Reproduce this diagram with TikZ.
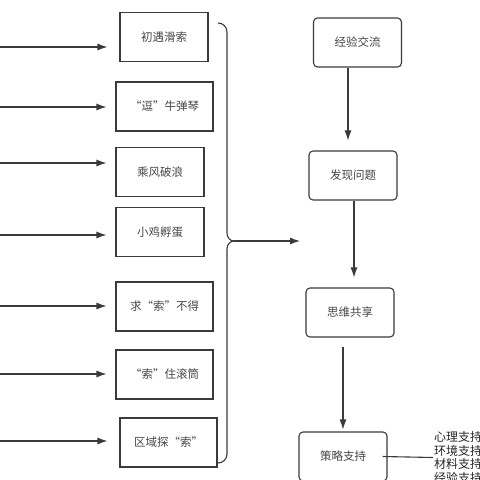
\documentclass[tikz,border=0pt]{standalone}
\usepackage{fontspec}
\newfontfamily\cjk{Noto Sans CJK SC}
\usetikzlibrary{arrows.meta}
\usetikzlibrary{positioning}
\definecolor{linegray}{HTML}{3A3A3A}
\definecolor{textgray}{HTML}{454545}
\tikzset{
	stagebox/.style={draw=linegray,line width=1.1pt,minimum width=88pt,minimum height=49pt,inner sep=0pt,font=\cjk\fontsize{11.5}{13}\selectfont,text=textgray},
	widebox/.style={stagebox,minimum width=97pt},
	flowbox/.style={stagebox,rounded corners=4pt},
	link/.style={draw=linegray,line width=1.1pt,-{Latex[length=10pt,width=7pt]}}
}

\begin{document}
\begin{tikzpicture}[x=1pt,y=-1pt]
			\useasboundingbox (0,0) rectangle (480,480);
			\clip (0,0) rectangle (480,480);
			\node[stagebox] (cyhs) at (164,37) {初遇滑索};
			\node[widebox] (dndq) at (164.5,106.5) {“逗”牛弹琴};
			\node[stagebox] (cfpl) at (160,172) {乘风破浪};
			\node[stagebox] (xjfd) at (160,232) {小鸡孵蛋};
			\node[widebox] (qsbd) at (164.5,306.5) {求“索”不得};
			\node[widebox] (szgt) at (164.5,374.5) {“索”住滚筒};
			\node[widebox] (qyts) at (168.5,442.5) {区域探“索”};
			\coordinate (s1) at (0,47);
			\coordinate (s2) at (0,107);
			\coordinate (s3) at (0,163);
			\coordinate (s4) at (0,235);
			\coordinate (s5) at (0,306);
			\coordinate (s6) at (0,374);
			\coordinate (s7) at (0,441);
			\draw[link,shorten >=12pt] (s1) -- (s1 -| cyhs.west);
			\draw[link,shorten >=9pt] (s2) -- (s2 -| dndq.west);
			\draw[link,shorten >=9pt] (s3) -- (s3 -| cfpl.west);
			\draw[link,shorten >=9pt] (s4) -- (s4 -| xjfd.west);
			\draw[link,shorten >=9pt] (s5) -- (s5 -| qsbd.west);
			\draw[link,shorten >=9pt] (s6) -- (s6 -| szgt.west);
			\draw[link,shorten >=12pt] (s7) -- (s7 -| qyts.west);
			\coordinate (bracetop) at (218,23);
			\coordinate (bracebot) at (218,463);
			\coordinate (bracetip) at (234,241);
			\coordinate (flowin) at (300,241);
			\draw[linegray,line width=1.1pt] (bracetop) to[out=0,in=90] (227,32) -- (227,233) to[out=-90,in=180] (bracetip);
			\draw[linegray,line width=1.1pt] (bracetip) to[out=180,in=90] (227,249) -- (227,454) to[out=-90,in=0] (bracebot);
			\draw[link] (bracetip) -- (flowin);
			\node[flowbox] (jyjl) at (357.5,42.5) {经验交流};
			\node[flowbox] (fxwt) at (353,175.5) {发现问题};
			\node[flowbox] (sswx) at (350,312.5) {思维共享};
			\node[flowbox] (clzc) at (343,456.5) {策略支持};
			\draw[link,shorten >=10pt] ([xshift=-9.5pt]jyjl.south) coordinate (d1) -- (d1 |- fxwt.north);
			\draw[link,shorten >=10pt] ([xshift=1pt]fxwt.south) coordinate (d2) -- (d2 |- sswx.north);
			\draw[link,shorten <=9pt,shorten >=2pt] ([xshift=-7pt]sswx.south) coordinate (d3) -- (d3 |- clzc.north);
			\node[anchor=west,align=left,inner sep=1pt,font=\cjk\fontsize{12}{13.7}\selectfont,text=black!85] (zc) at (433,457.5) {心理支持\\环境支持\\材料支持\\经验支持};
			\draw[linegray,line width=1.1pt] ([xshift=-5pt]clzc.east) -- (zc.west);
		\end{tikzpicture}
\end{document}
